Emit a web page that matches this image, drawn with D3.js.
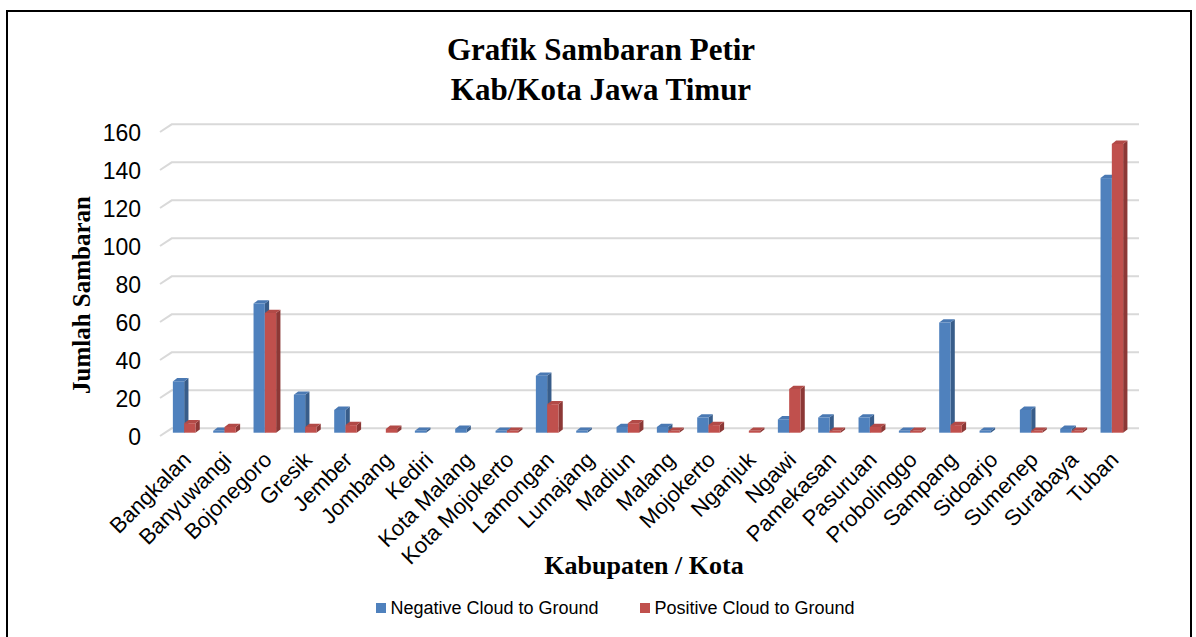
<!DOCTYPE html>
<html>
<head>
<meta charset="utf-8">
<script src="https://cdn.jsdelivr.net/npm/d3@7"></script>
<style>
  body { margin: 0; background: #fff; }
  svg { display: block; }
</style>
</head>
<body>
<svg id="chart" width="1196" height="637"></svg>
<script>
var categories = ["Bangkalan", "Banyuwangi", "Bojonegoro", "Gresik", "Jember", "Jombang", "Kediri",
  "Kota Malang", "Kota Mojokerto", "Lamongan", "Lumajang", "Madiun", "Malang", "Mojokerto",
  "Nganjuk", "Ngawi", "Pamekasan", "Pasuruan", "Probolinggo", "Sampang", "Sidoarjo",
  "Sumenep", "Surabaya", "Tuban"];
var negative = [27, 1, 68, 20, 12, 0, 1, 2, 1, 30, 1, 3, 3, 8, 0, 7, 8, 8, 1, 58, 1, 12, 2, 134];
var positive = [5, 3, 63, 3, 4, 2, 0, 0, 1, 15, 0, 5, 1, 4, 1, 23, 1, 3, 1, 4, 0, 1, 1, 152];
var seriesNames = ["Negative Cloud to Ground", "Positive Cloud to Ground"];
var yTicks = [0, 20, 40, 60, 80, 100, 120, 140, 160];

var svg = d3.select("#chart");

// colours: front, side, top
var palette = [
  { front: "#4f81bd", side: "#385d8a", top: "#4a79b3" },
  { front: "#c0504d", side: "#8c3836", top: "#b24a47" }
];

// depth of the 3d effect
var dx = 4.3, dy = 3.3;      // bars
var wx = 11.7, wy = 7.7;     // back wall offset for gridlines

var x = d3.scaleBand().domain(categories).range([164, 1132]).padding(0);
var y = d3.scaleLinear().domain([0, 160]).range([432.7, 128.7]);
var barW = 11.3;

// outer frame
svg.append("rect")
  .attr("x", 7).attr("y", 11)
  .attr("width", 1184).attr("height", 640)
  .attr("fill", "none").attr("stroke", "#000").attr("stroke-width", 2);

// gridlines on back wall
var grid = svg.append("g").attr("class", "grid");
yTicks.forEach(function(v){
  var yf = y(v) + 3.3;
  grid.append("path")
    .attr("d", "M160," + yf + "L" + (160 + wx) + "," + (yf - wy) + "L1139," + (yf - wy))
    .attr("fill", "none")
    .attr("stroke", "#d9d9d9")
    .attr("stroke-width", 2);
});

// y tick labels
svg.append("g").selectAll("text")
  .data(yTicks).enter().append("text")
  .attr("x", 141)
  .attr("y", d => y(d) + 4.6)
  .attr("dy", "0.35em")
  .attr("text-anchor", "end")
  .style("font-family", "Arial, 'Liberation Sans', sans-serif")
  .style("font-size", "23px")
  .attr("fill", "#000")
  .text(d => d);

// bars
var rows = [];
categories.forEach(function(c, i){
  rows.push({ cat: c, s: 0, v: negative[i] });
  rows.push({ cat: c, s: 1, v: positive[i] });
});

function bar3d(g, d){
  if (!d.v) return;
  var x0 = x(d.cat) + x.bandwidth() / 2 - barW + d.s * barW;
  var x1 = x0 + barW;
  var y0 = y(0), y1 = y(d.v);
  var col = palette[d.s];
  g.append("polygon")
    .attr("points", [[x1, y1], [x1 + dx, y1 - dy], [x1 + dx, y0 - dy], [x1, y0]].join(" "))
    .attr("fill", col.side);
  g.append("polygon")
    .attr("points", [[x0, y1], [x0 + dx, y1 - dy], [x1 + dx, y1 - dy], [x1, y1]].join(" "))
    .attr("fill", col.top);
  g.append("rect")
    .attr("x", x0).attr("y", y1)
    .attr("width", barW).attr("height", y0 - y1)
    .attr("fill", col.front);
}

var bars = svg.append("g").attr("class", "bars");
rows.forEach(function(d){ bar3d(bars, d); });

// category labels
svg.append("g").selectAll("text")
  .data(categories).enter().append("text")
  .attr("transform", d => "translate(" + (x(d) + x.bandwidth() / 2 - 3) + ",450) rotate(-45)")
  .attr("dy", "0.72em")
  .attr("text-anchor", "end")
  .style("font-family", "Arial, 'Liberation Sans', sans-serif")
  .style("font-size", "22px")
  .attr("fill", "#000")
  .text(d => d);

// titles
var serif = "'Times New Roman', 'Liberation Serif', serif";
svg.append("text")
  .attr("x", 601).attr("y", 60)
  .attr("text-anchor", "middle")
  .style("font-family", serif).style("font-weight", "bold").style("font-size", "31px")
  .text("Grafik Sambaran Petir");
svg.append("text")
  .attr("x", 601).attr("y", 100)
  .attr("text-anchor", "middle")
  .style("font-family", serif).style("font-weight", "bold").style("font-size", "31px")
  .text("Kab/Kota Jawa Timur");

svg.append("text")
  .attr("x", 644).attr("y", 574)
  .attr("text-anchor", "middle")
  .style("font-family", serif).style("font-weight", "bold").style("font-size", "26px")
  .text("Kabupaten / Kota");

svg.append("text")
  .attr("transform", "translate(90,295) rotate(-90)")
  .attr("text-anchor", "middle")
  .style("font-family", serif).style("font-weight", "bold").style("font-size", "25px")
  .text("Jumlah Sambaran");

// legend
var legendX = [376, 640];
var legend = svg.append("g").selectAll("g")
  .data(seriesNames).enter().append("g")
  .attr("transform", (d, i) => "translate(" + legendX[i] + ",603)");
legend.append("rect")
  .attr("width", 10).attr("height", 10)
  .attr("fill", (d, i) => palette[i].front);
legend.append("text")
  .attr("x", 14.5).attr("y", 11)
  .style("font-family", "Arial, 'Liberation Sans', sans-serif")
  .style("font-size", "18px")
  .attr("fill", "#000")
  .text(d => d);
</script>
</body>
</html>
